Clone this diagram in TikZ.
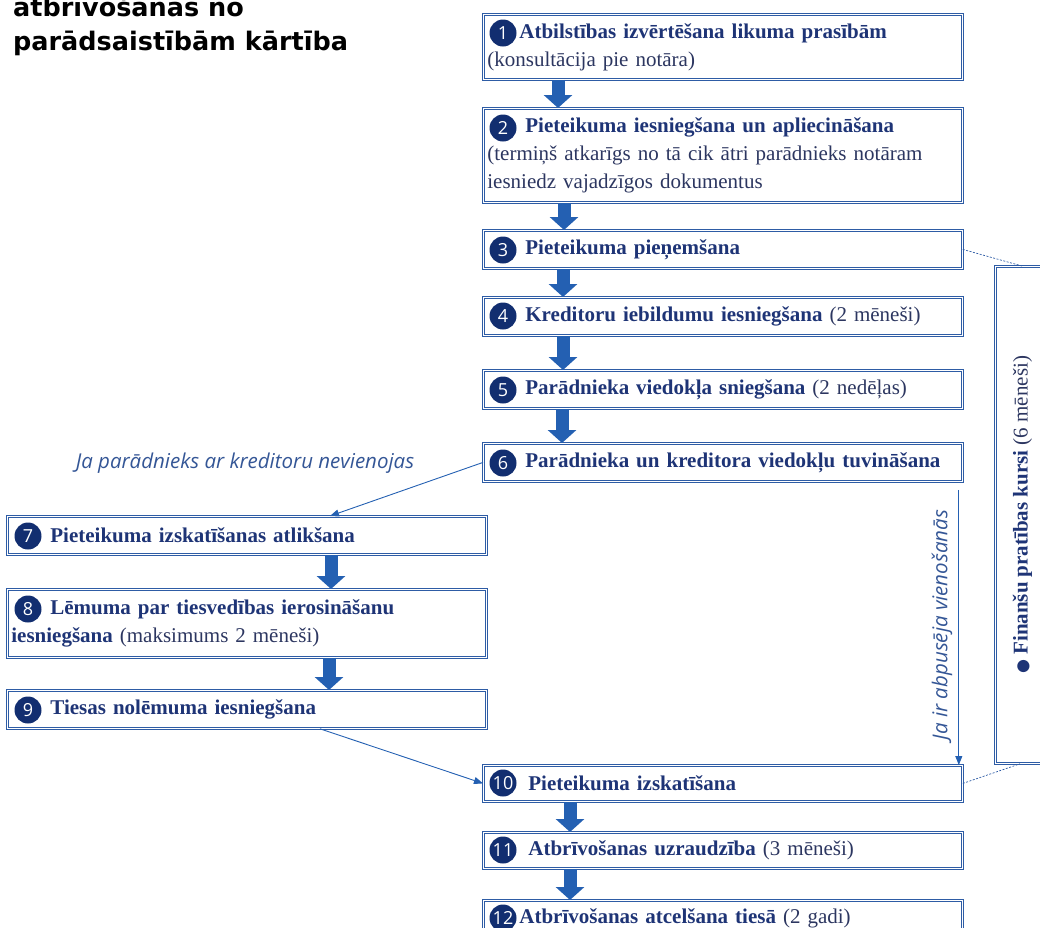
\documentclass[tikz,border=0pt]{standalone}
\usepackage{fontspec}
\setmainfont{Liberation Serif}
\newfontfamily\headfont{DejaVu Sans}
\newfontfamily\notefont{Open Sans}
\newfontfamily\dotfont{DejaVu Sans}
\usetikzlibrary{arrows.meta}

\definecolor{boxblue}{RGB}{46,92,165}
\definecolor{navy}{RGB}{30,52,118}
\definecolor{greynavy}{RGB}{44,54,96}
\definecolor{arrowblue}{RGB}{36,96,178}
\definecolor{circnavy}{RGB}{18,46,112}
\definecolor{noteblue}{RGB}{52,86,150}
\newcommand{\regtxt}[1]{{\color{greynavy}#1}}

\begin{document}
\begin{tikzpicture}[x=1pt,y=-1pt,
  box/.style={draw=boxblue,double,double distance=1.4pt,line width=0.8pt,anchor=north west,text width=471pt,align=left,inner xsep=4pt,inner ysep=2pt,minimum height=38pt,font=\fontsize{21}{28}\selectfont,text=navy},
  num/.style={circle,fill=circnavy,text=white,minimum size=27pt,inner sep=0pt,font=\notefont\fontsize{18}{18}\selectfont},
  bigarrow/.style={draw=arrowblue,line width=13pt,-{Triangle[width=28pt,length=13pt]}},
  thinarrow/.style={draw=arrowblue,line width=0.9pt,-{Triangle[width=7pt,length=9pt]}},
  link/.style={draw=boxblue,line width=0.7pt,dash pattern=on 2pt off 1.5pt},
  note/.style={text=noteblue,inner sep=0pt,font=\notefont\itshape\fontsize{20.5}{24}\selectfont}]
  \clip (0,0) rectangle (1040,927);

  % title
  \node (title) at (13,-4.5) [anchor=north west,inner sep=0pt,align=left,font=\headfont\bfseries\fontsize{25.5}{34}\selectfont] {atbrīvošanas no\\parādsaistībām kārtība};

  % right column
  \node (b1) at (483,14) [box,minimum height=65pt] {\hspace*{32pt}\textbf{Atbilstības izvērtēšana likuma prasībām}\\\regtxt{(konsultācija pie notāra)}};
  \node (b2) at (483,108) [box,minimum height=94pt] {\hspace*{38pt}\textbf{Pieteikuma iesniegšana un apliecināšana}\\\regtxt{(termiņš atkarīgs no tā cik ātri parādnieks notāram}\\\regtxt{iesniedz vajadzīgos dokumentus}};
  \node (b3) at (483,230) [box] {\hspace*{38pt}\textbf{Pieteikuma pieņemšana}};
  \node (b4) at (483,297) [box] {\hspace*{38pt}\textbf{Kreditoru iebildumu iesniegšana} \regtxt{(2 mēneši)}};
  \node (b5) at (483,370) [box] {\hspace*{38pt}\textbf{Parādnieka viedokļa sniegšana} \regtxt{(2 nedēļas)}};
  \node (b6) at (483,443) [box] {\hspace*{38pt}\textbf{Parādnieka un kreditora viedokļu tuvināšana}};

  % left column
  \node (b7) at (7,516) [box] {\hspace*{39pt}\textbf{Pieteikuma izskatīšanas atlikšana}};
  \node (b8) at (7,589) [box,minimum height=68pt] {\hspace*{39pt}\textbf{Lēmuma par tiesvedības ierosināšanu}\\\textbf{iesniegšana} \regtxt{(maksimums 2 mēneši)}};
  \node (b9) at (7,690) [box] {\hspace*{39pt}\textbf{Tiesas nolēmuma iesniegšana}};

  % bottom
  \node (b10) at (483,765) [box,minimum height=36pt] {\hspace*{41pt}\textbf{Pieteikuma izskatīšana}};
  \node (b11) at (483,832) [box,minimum height=36pt] {\hspace*{41pt}\textbf{Atbrīvošanas uzraudzība} \regtxt{(3 mēneši)}};
  \node (b12) at (483,900) [box,minimum height=36pt] {\hspace*{32pt}\textbf{Atbrīvošanas atcelšana tiesā} \regtxt{(2 gadi)}};

  % side course box
  \node (side) at (995,266) [anchor=north west,draw=boxblue,double,double distance=1.4pt,line width=0.8pt,minimum width=54pt,minimum height=497pt] {};
  \node (sidetext) at (side.center) [rotate=90,text=navy,inner sep=0pt,font=\fontsize{21}{24}\selectfont] {{\dotfont\fontsize{16}{16}\selectfont●} \textbf{Finanšu pratības kursi} \regtxt{(6 mēneši)}};

  % numbers
  \node (c1) at ([xshift=20pt,yshift=-19pt]b1.north west) [num] {1};
  \node (c2) at ([xshift=20pt,yshift=-20pt]b2.north west) [num] {2};
  \node (c3) at ([xshift=20pt,yshift=-20pt]b3.north west) [num] {3};
  \node (c4) at ([xshift=20pt,yshift=-19pt]b4.north west) [num] {4};
  \node (c5) at ([xshift=20pt,yshift=-20pt]b5.north west) [num] {5};
  \node (c6) at ([xshift=20pt,yshift=-20pt]b6.north west) [num] {6};
  \node (c7) at ([xshift=21pt,yshift=-20pt]b7.north west) [num] {7};
  \node (c8) at ([xshift=21pt,yshift=-20pt]b8.north west) [num] {8};
  \node (c9) at ([xshift=21pt,yshift=-20pt]b9.north west) [num] {9};
  \node (c10) at ([xshift=20pt,yshift=-18pt]b10.north west) [num] {10};
  \node (c11) at ([xshift=20pt,yshift=-18pt]b11.north west) [num] {11};
  \node (c12) at ([xshift=20pt,yshift=-18pt]b12.north west) [num] {12};

  % block arrows
  \draw[bigarrow] ([xshift=75pt]b1.south west) -- ([xshift=75pt]b2.north west);
  \draw[bigarrow] ([xshift=81pt]b2.south west) -- ([xshift=81pt]b3.north west);
  \draw[bigarrow] ([xshift=80pt]b3.south west) -- ([xshift=80pt]b4.north west);
  \draw[bigarrow] ([xshift=80pt]b4.south west) -- ([xshift=80pt]b5.north west);
  \draw[bigarrow] ([xshift=79pt]b5.south west) -- ([xshift=79pt]b6.north west);
  \draw[bigarrow] ([xshift=324pt]b7.south west) -- ([xshift=324pt]b8.north west);
  \draw[bigarrow] ([xshift=322pt]b8.south west) -- ([xshift=322pt]b9.north west);
  \draw[bigarrow] ([xshift=87pt]b10.south west) -- ([xshift=87pt]b11.north west);
  \draw[bigarrow] ([xshift=87pt]b11.south west) -- ([xshift=87pt]b12.north west);

  % branches
  \draw[thinarrow] (b6.west) -- ([xshift=323pt]b7.north west);
  \node (nolabel) at (245,463) [note] {Ja parādnieks ar kreditoru nevienojas};
  \draw[thinarrow] ([xshift=313pt]b9.south west) -- (b10.west);
  \coordinate (agree) at ([xshift=-4pt,yshift=-8pt]b6.south east);
  \draw[thinarrow] (agree) -- ([xshift=-4pt]b10.north east);
  \node (yeslabel) at (942,625) [note,rotate=90] {Ja ir abpusēja vienošanās};

  % links to course box
  \draw[link] (b3.east) -- ([xshift=27pt]side.north west);
  \draw[link] (b10.east) -- ([xshift=25pt]side.south west);
\end{tikzpicture}
\end{document}
